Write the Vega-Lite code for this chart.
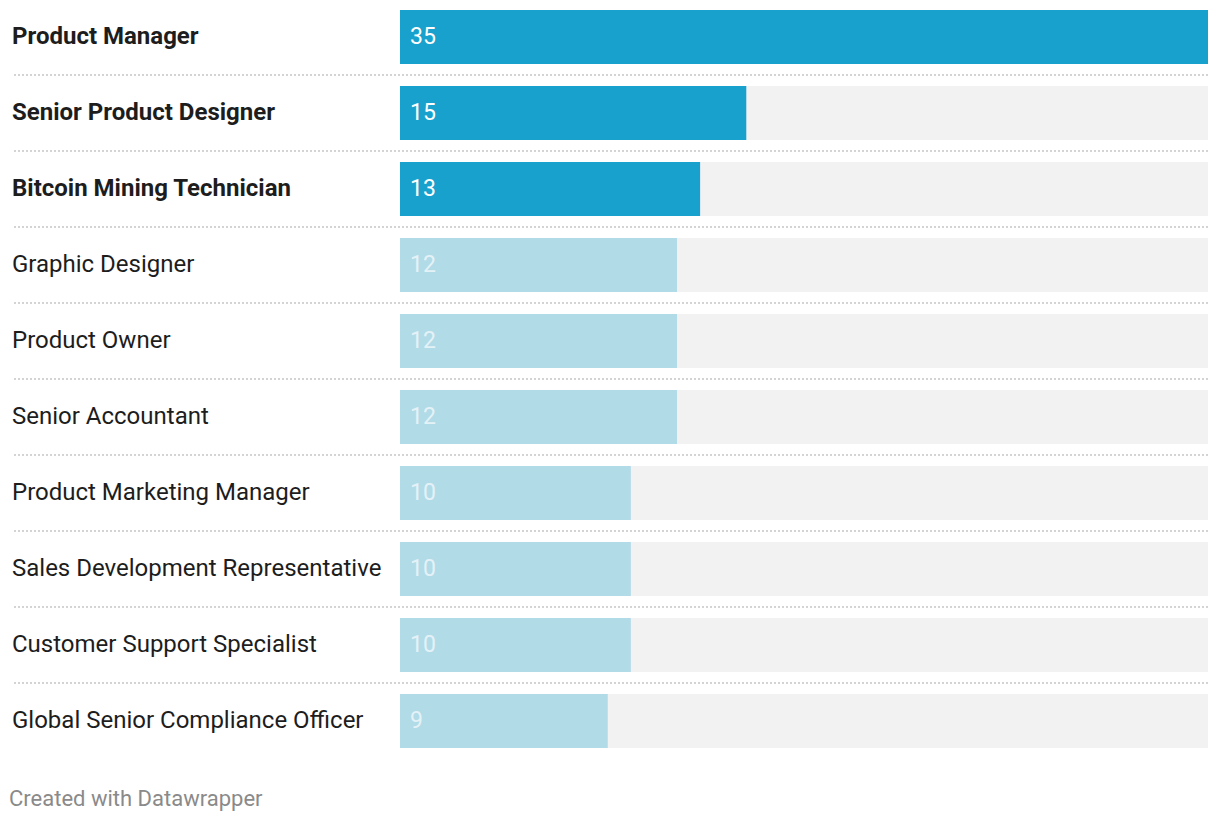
{
  "$schema": "https://vega.github.io/schema/vega-lite/v6.json",
  "width": 1196,
  "height": 758,
  "autosize": {"type": "none"},
  "padding": {"left": 12, "right": 12, "top": 0, "bottom": 66},
  "background": "white",
  "config": {"view": {"stroke": null}, "font": "Roboto"},
  "title": {
    "text": "Created with Datawrapper",
    "orient": "bottom",
    "anchor": "start",
    "offset": 31,
    "dx": -2,
    "fontSize": 22,
    "fontWeight": "normal",
    "color": "#8a8a8a",
    "font": "Roboto",
    "baseline": "top"
  },
  "data": {
    "values": [
      {"role": "Product Manager", "value": 35},
      {"role": "Senior Product Designer", "value": 15},
      {"role": "Bitcoin Mining Technician", "value": 13},
      {"role": "Graphic Designer", "value": 12},
      {"role": "Product Owner", "value": 12},
      {"role": "Senior Accountant", "value": 12},
      {"role": "Product Marketing Manager", "value": 10},
      {"role": "Sales Development Representative", "value": 10},
      {"role": "Customer Support Specialist", "value": 10},
      {"role": "Global Senior Compliance Officer", "value": 9}
    ]
  },
  "encoding": {
    "y": {
      "field": "role",
      "type": "nominal",
      "sort": null,
      "axis": null,
      "scale": {"paddingInner": 0.2895, "paddingOuter": 0.1316}
    }
  },
  "layer": [
    {
      "mark": {"type": "bar", "color": "#f2f2f2", "cornerRadius": 0},
      "encoding": {
        "x": {"datum": 0, "type": "quantitative", "scale": {"domain": [-16.807, 35], "nice": false, "zero": false}, "axis": null},
        "x2": {"datum": 35}
      }
    },
    {
      "mark": {"type": "bar"},
      "encoding": {
        "x": {"field": "value", "type": "quantitative"},
        "x2": {"datum": 0},
        "color": {
          "condition": {"test": "datum.value >= 13", "value": "#18a1cd"},
          "value": "#b2dbe8"
        }
      }
    },
    {
      "mark": {"type": "text", "align": "left", "dx": 10, "fontSize": 23, "font": "Roboto", "baseline": "middle"},
      "encoding": {
        "x": {"datum": 0, "type": "quantitative"},
        "text": {"field": "value", "type": "quantitative"},
        "color": {"value": "#ffffff"},
        "opacity": {
          "condition": {"test": "datum.value >= 13", "value": 1},
          "value": 0.65
        }
      }
    },
    {
      "mark": {
        "type": "text",
        "align": "left",
        "fontSize": 24,
        "font": "Roboto",
        "baseline": "middle",
        "color": "#1d1d1d",
        "fontWeight": {"expr": "datum.value >= 13 ? 'bold' : 'normal'"}
      },
      "encoding": {
        "x": {"datum": -16.807, "type": "quantitative"},
        "text": {"field": "role", "type": "nominal"}
      }
    },
    {
      "transform": [{"filter": "datum.role !== 'Global Senior Compliance Officer'"}],
      "mark": {"type": "rule", "strokeDash": [2, 2], "strokeWidth": 2, "color": "#d4d4d4", "yOffset": 11},
      "encoding": {
        "y": {"field": "role", "type": "nominal", "sort": null, "bandPosition": 1}
      }
    }
  ]
}
